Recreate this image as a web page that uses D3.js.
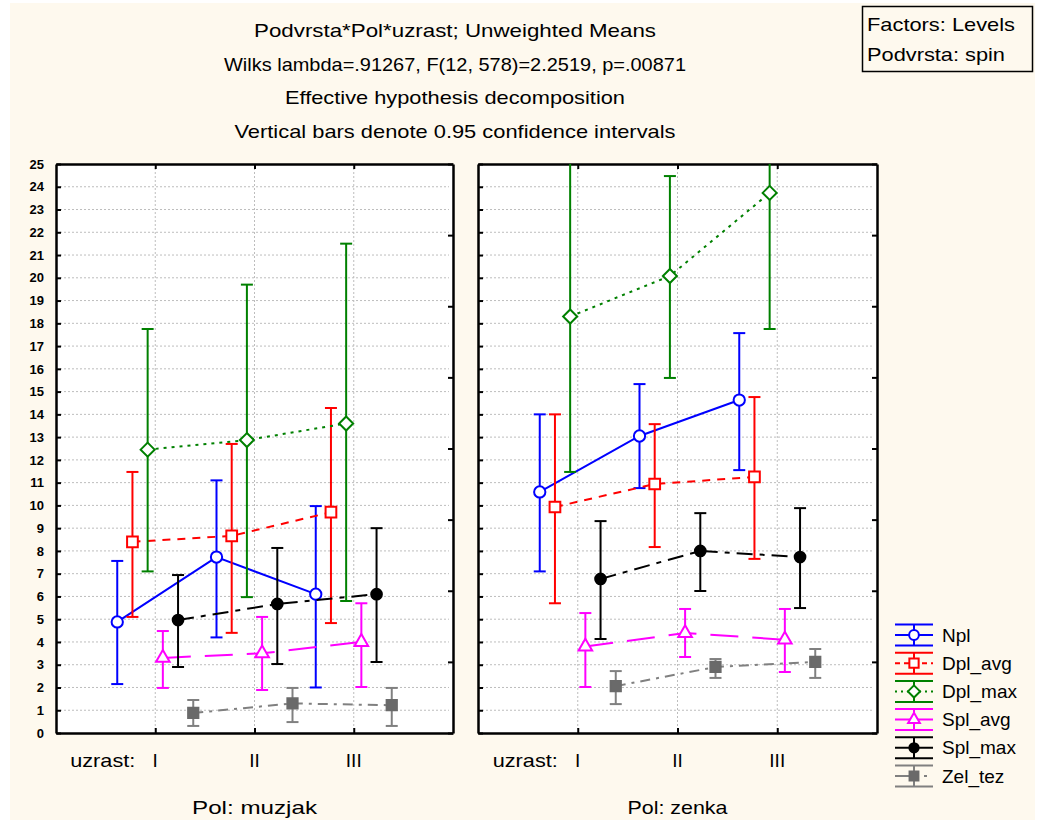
<!DOCTYPE html>
<html>
<head>
<meta charset="utf-8">
<script src="https://cdn.jsdelivr.net/npm/d3@7"></script>
<style>
  body { margin: 0; background: #ffffff; }
  text { font-family: "Liberation Sans", Arial, sans-serif; }
</style>
</head>
<body>
<div id="canvas"></div>
<script>
// sizes of the page
var w = 1038;
var h = 820;

// data: per panel (muzjak, zenka), per level [low, mean, high]
var groups = ["muzjak", "zenka"];
var levels = ["I", "II", "III"];
var seriesNames = ["Npl", "Dpl_avg", "Dpl_max", "Spl_avg", "Spl_max", "Zel_tez"];

var Npl = [
    [[2.15, 4.88, 7.56], [4.2, 7.73, 11.1], [2.0, 6.1, 9.97]],
    [[7.1, 10.59, 14.0], [10.76, 13.05, 15.33], [11.55, 14.63, 17.57]]
];
var Dpl_avg = [
    [[5.1, 8.4, 11.47], [4.4, 8.66, 12.7], [4.83, 9.7, 14.28]],
    [[5.7, 9.93, 14.0], [8.17, 10.94, 13.57], [7.65, 11.25, 14.76]]
];
var Dpl_max = [
    [[7.1, 12.45, 17.75], [5.97, 12.87, 19.7], [5.8, 13.6, 21.5]],
    [[11.47, 18.3, 25.1], [15.6, 20.08, 24.47], [17.75, 23.73, 29.7]]
];
var Spl_avg = [
    [[1.98, 3.3, 4.48], [1.89, 3.5, 5.1], [2.02, 4.0, 5.7]],
    [[2.02, 3.8, 5.27], [3.34, 4.39, 5.45], [2.68, 4.1, 5.45]]
];
var Spl_max = [
    [[2.9, 4.96, 6.94], [3.03, 5.67, 8.13], [3.12, 6.1, 9.0]],
    [[4.13, 6.77, 9.31], [6.24, 8.0, 9.66], [5.49, 7.73, 9.88]]
];
var Zel_tez = [
    [[0.31, 0.88, 1.45], [0.48, 1.3, 1.98], [0.31, 1.22, 1.98]],
    [[1.27, 2.06, 2.72], [2.42, 2.9, 3.25], [2.42, 3.12, 3.69]]
];

var titleLines = [
    "Podvrsta*Pol*uzrast; Unweighted Means",
    "Wilks lambda=.91267, F(12, 578)=2.2519, p=.00871",
    "Effective hypothesis decomposition",
    "Vertical bars denote 0.95 confidence intervals"
];
var titleWidths = [402, 462, 340, 441];
var yTicks = d3.range(0, 26);

// styling per series
var styles = {
    Npl:     {color: "#0000ff", dash: null,          legendDash: null,      marker: "circle"},
    Dpl_avg: {color: "#ff0000", dash: "8,7",         legendDash: "5,4",     marker: "square"},
    Dpl_max: {color: "#008000", dash: "3,5",         legendDash: "2,4",     marker: "diamond"},
    Spl_avg: {color: "#ff00ff", dash: "28,14",       legendDash: null,      marker: "triangle"},
    Spl_max: {color: "#000000", dash: "16,7,5,7",    legendDash: null,      marker: "dot"},
    Zel_tez: {color: "#808080", dash: "10,6,3,6",    legendDash: "19,10,3,20", marker: "fsquare"}
};
var allData = {Npl: Npl, Dpl_avg: Dpl_avg, Dpl_max: Dpl_max, Spl_avg: Spl_avg, Spl_max: Spl_max, Zel_tez: Zel_tez};

var svg = d3.select("#canvas")
    .append("svg")
    .attr("width", w)
    .attr("height", h);

svg.append("rect")
    .attr("x", 10).attr("y", 3)
    .attr("width", 1025).attr("height", h - 3)
    .attr("fill", "#fef9ee");

// titles
svg.selectAll(".title")
    .data(titleLines)
    .join("text")
    .attr("x", 455)
    .attr("y", (d, i) => 37 + i * 33.5)
    .attr("text-anchor", "middle")
    .attr("font-size", 19)
    .attr("textLength", (d, i) => titleWidths[i])
    .attr("lengthAdjust", "spacingAndGlyphs")
    .attr("fill", "#000")
    .text(d => d);

// factors box
svg.append("rect")
    .attr("x", 862.5).attr("y", 6.5)
    .attr("width", 170).attr("height", 65)
    .attr("fill", "none").attr("stroke", "#000").attr("stroke-width", 1.5);
svg.append("text").attr("x", 867).attr("y", 31).attr("font-size", 19)
    .attr("textLength", 148).attr("lengthAdjust", "spacingAndGlyphs").text("Factors: Levels");
svg.append("text").attr("x", 867).attr("y", 61).attr("font-size", 19)
    .attr("textLength", 138).attr("lengthAdjust", "spacingAndGlyphs").text("Podvrsta: spin");

var y_scale = d3.scaleLinear()
    .domain([0, 25])
    .range([733, 164]);

var dodge = d3.scalePoint()
    .domain(seriesNames)
    .range([-38, 38]);

var panels = [
    {left: 56, right: 453, polWidth: 125},
    {left: 478, right: 877, polWidth: 100}
];

var symbolTypes = {
    circle: d3.symbolCircle, square: d3.symbolSquare, diamond: d3.symbolDiamond2,
    triangle: d3.symbolTriangle, dot: d3.symbolCircle, fsquare: d3.symbolSquare
};
var symbolSizes = {circle: 100, square: 115, diamond: 125, triangle: 80, dot: 90, fsquare: 105};

function drawMarker(g, name, cx, cy, scale) {
    var st = styles[name];
    var filled = st.marker == "dot" || st.marker == "fsquare";
    var fillColor = st.marker == "dot" ? "#000" : (st.marker == "fsquare" ? "#6a6a6a" : "#fff");
    g.append("path")
        .attr("d", d3.symbol().type(symbolTypes[st.marker]).size(symbolSizes[st.marker] * scale)())
        .attr("transform", `translate(${cx},${cy})`)
        .attr("fill", fillColor)
        .attr("stroke", filled ? fillColor : st.color)
        .attr("stroke-width", 2);
}

panels.forEach(function(p, gi) {
    var x_scale = d3.scalePoint()
        .domain(levels)
        .range([p.left, p.right])
        .padding(1);

    var g = svg.append("g");

    svg.append("clipPath").attr("id", "clip" + gi)
        .append("rect")
        .attr("x", p.left).attr("y", 164)
        .attr("width", p.right - p.left).attr("height", 733 - 164);

    g.append("rect")
        .attr("x", p.left).attr("y", 164)
        .attr("width", p.right - p.left).attr("height", 733 - 164)
        .attr("fill", "#fff");

    // grid
    g.selectAll(".hg")
        .data(yTicks.slice(1, 25))
        .join("line")
        .attr("x1", p.left + 4).attr("x2", p.right - 4)
        .attr("y1", d => y_scale(d)).attr("y2", d => y_scale(d))
        .attr("stroke", "#bdbdbd").attr("stroke-dasharray", "2,2");
    g.selectAll(".vg")
        .data(levels)
        .join("line")
        .attr("x1", d => x_scale(d)).attr("x2", d => x_scale(d))
        .attr("y1", 168).attr("y2", 729)
        .attr("stroke", "#bdbdbd").attr("stroke-dasharray", "2,2");

    // axes
    var leftAxis = d3.axisLeft(y_scale).tickValues(yTicks).tickSizeInner(-5).tickSizeOuter(0).tickPadding(12);
    if (gi == 1) leftAxis.tickFormat("");
    var la = g.append("g")
        .attr("transform", `translate(${p.left},0)`)
        .call(leftAxis);
    la.selectAll("text")
        .attr("font-family", "'Liberation Sans Narrow', 'Liberation Sans', Arial, sans-serif")
        .attr("font-weight", "bold")
        .attr("font-size", 13)
        .attr("fill", "#000");

    var y8 = d3.scaleLinear().domain([0, 8]).range([733, 164]);
    g.append("g")
        .attr("transform", `translate(${p.right},0)`)
        .call(d3.axisRight(y8).ticks(8).tickSizeInner(-5).tickSizeOuter(0).tickFormat(""));

    g.append("g")
        .attr("transform", "translate(0,733)")
        .call(d3.axisBottom(x_scale).tickSizeInner(-5).tickSizeOuter(0).tickFormat(""));
    g.append("g")
        .attr("transform", "translate(0,164)")
        .call(d3.axisTop(x_scale).tickSizeInner(-5).tickSizeOuter(0).tickFormat(""));

    g.selectAll(".domain").attr("stroke", "#000").attr("stroke-width", 2.5);
    g.selectAll(".tick line").attr("stroke", "#000").attr("stroke-width", 2);

    // category labels
    g.selectAll(".cat")
        .data(levels)
        .join("text")
        .attr("x", d => x_scale(d))
        .attr("y", 767)
        .attr("text-anchor", "middle")
        .attr("font-size", 19)
        .text(d => d);
    g.append("text")
        .attr("x", x_scale("I") - 20)
        .attr("y", 767)
        .attr("text-anchor", "end")
        .attr("font-size", 19)
        .attr("textLength", 65)
        .attr("lengthAdjust", "spacingAndGlyphs")
        .text("uzrast:");
    g.append("text")
        .attr("x", (p.left + p.right) / 2)
        .attr("y", 814)
        .attr("text-anchor", "middle")
        .attr("font-size", 19)
        .attr("textLength", p.polWidth)
        .attr("lengthAdjust", "spacingAndGlyphs")
        .text("Pol: " + groups[gi]);

    var plot = g.append("g").attr("clip-path", `url(#clip${gi})`);

    seriesNames.forEach(function(name) {
        var st = styles[name];
        var vals = allData[name][gi];
        var pts = levels.map((lv, i) => ({x: x_scale(lv) + dodge(name), lo: vals[i][0], m: vals[i][1], hi: vals[i][2]}));

        plot.append("path")
            .datum(pts)
            .attr("d", d3.line().x(d => d.x).y(d => y_scale(d.m)))
            .attr("fill", "none")
            .attr("stroke", st.color)
            .attr("stroke-width", 2)
            .attr("stroke-dasharray", st.dash);

        pts.forEach(function(d) {
            plot.append("line")
                .attr("x1", d.x).attr("x2", d.x)
                .attr("y1", y_scale(d.lo)).attr("y2", y_scale(d.hi))
                .attr("stroke", st.color).attr("stroke-width", 2);
            [d.lo, d.hi].forEach(function(v) {
                plot.append("line")
                    .attr("x1", d.x - 6).attr("x2", d.x + 6)
                    .attr("y1", y_scale(v)).attr("y2", y_scale(v))
                    .attr("stroke", st.color).attr("stroke-width", 2);
            });
        });
        pts.forEach(function(d) {
            drawMarker(plot, name, d.x, y_scale(d.m), 1);
        });
    });
});

// legend
var legend = svg.append("g");
seriesNames.forEach(function(name, i) {
    var st = styles[name];
    var cy = 635 + i * 28.2;
    var lg = legend.append("g");
    lg.append("line").attr("x1", 895).attr("x2", 933).attr("y1", cy - 10.5).attr("y2", cy - 10.5)
        .attr("stroke", st.color).attr("stroke-width", 2);
    lg.append("line").attr("x1", 895).attr("x2", 933).attr("y1", cy + 10.5).attr("y2", cy + 10.5)
        .attr("stroke", st.color).attr("stroke-width", 2);
    lg.append("line").attr("x1", 914).attr("x2", 914).attr("y1", cy - 10.5).attr("y2", cy + 10.5)
        .attr("stroke", st.color).attr("stroke-width", 2);
    lg.append("line").attr("x1", 895).attr("x2", 933).attr("y1", cy).attr("y2", cy)
        .attr("stroke", st.color).attr("stroke-width", 2)
        .attr("stroke-dasharray", st.legendDash);
    drawMarker(lg, name, 914, cy, 0.75);
    lg.append("text")
        .attr("x", 942).attr("y", cy + 6.5)
        .attr("font-size", 19)
        .text(name);
});
</script>
</body>
</html>
